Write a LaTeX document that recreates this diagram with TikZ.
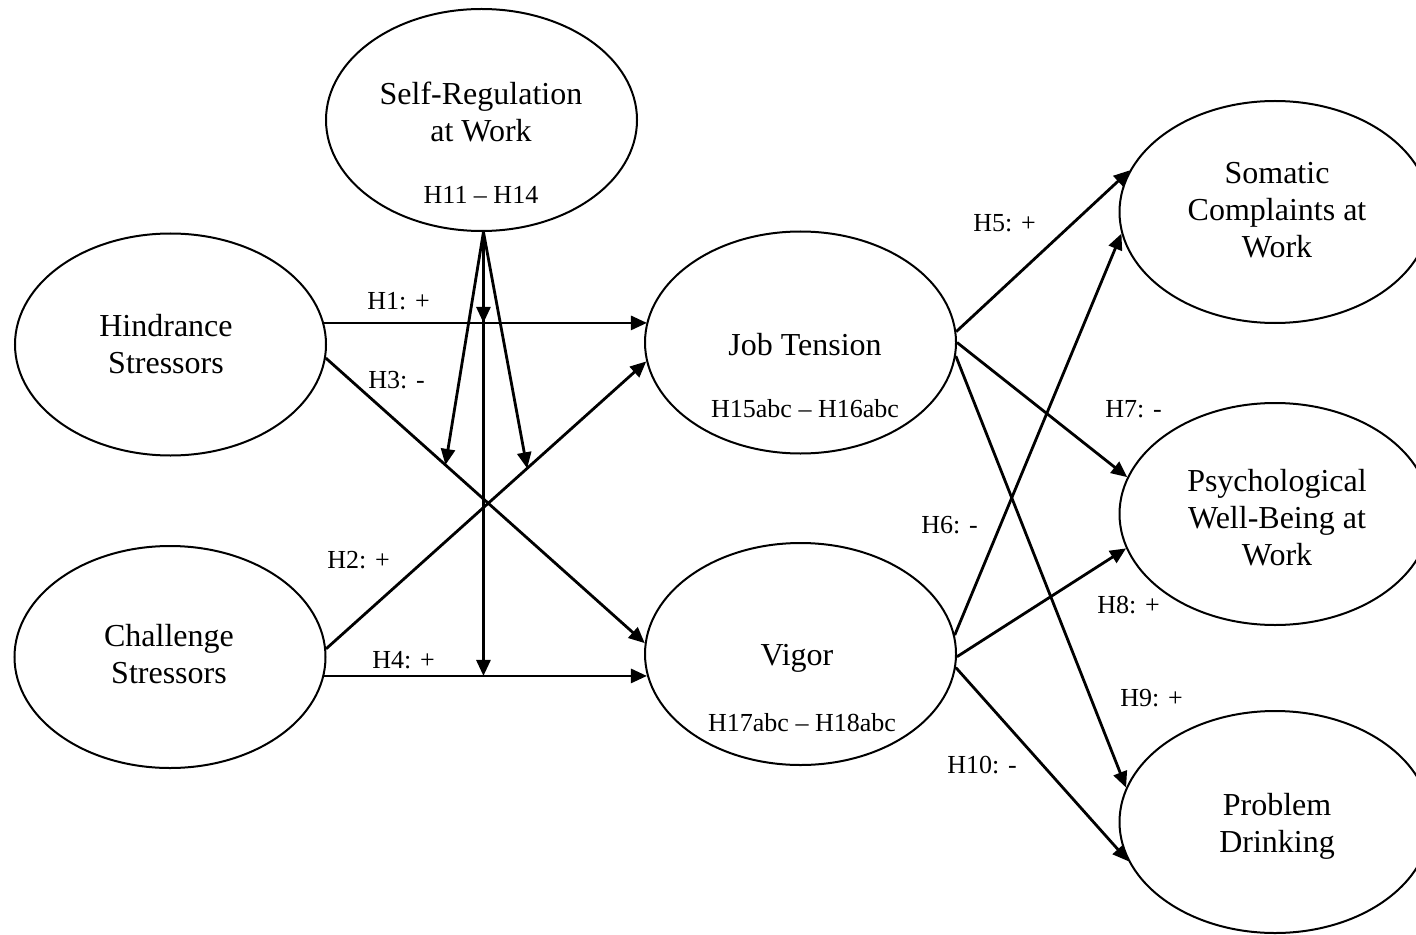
\documentclass[tikz,border=0pt]{standalone}
\usepackage{fontspec}
\setmainfont{Liberation Serif}
\usetikzlibrary{arrows.meta,calc,shapes.geometric}
\begin{document}
\begin{tikzpicture}[x=0.5pt,y=-0.5pt,
  latent/.style={draw,ellipse,line width=1pt,minimum width=155.5pt,minimum height=111pt,inner sep=0pt},
  maintext/.style={align=center,font=\fontsize{16}{18.5}\selectfont,anchor=base,inner sep=0pt},
  subtext/.style={font=\fontsize{13}{15}\selectfont,anchor=base,inner sep=0pt},
  hyp/.style={font=\fontsize{13}{15}\selectfont,anchor=base west,inner sep=0pt},
  effect/.style={line width=1.4pt,-{Triangle[length=8pt,width=7pt]}}
]
\fill[white] (0,0) rectangle (1416,935);
\useasboundingbox (0,0) rectangle (1416,935);

% ellipses
\node[latent] (sr) at (481.5,120) {};
\node[latent] (hs) at (170.5,344.5) {};
\node[latent] (cs) at (170,657) {};
\node[latent] (jt) at (800.5,342.5) {};
\node[latent] (vg) at (800.5,654) {};
\node[latent] (sc) at (1275,212) {};
\node[latent] (pw) at (1275,514) {};
\node[latent] (pd) at (1275,822) {};

% texts (anchor = baseline of last line)
\node[maintext] (srT) at (481,142) {Self-Regulation\\at Work};
\node[subtext] (srH) at (481,204) {H11 \textendash{} H14};
\node[maintext] (hsT) at (166,373) {Hindrance\\Stressors};
\node[maintext] (csT) at (169,683) {Challenge\\Stressors};
\node[maintext] (jtT) at (805,355) {Job Tension};
\node[subtext] (jtH) at (805,417) {H15abc \textendash{} H16abc};
\node[maintext] (vgT) at (797,665) {Vigor};
\node[subtext] (vgH) at (802,731) {H17abc \textendash{} H18abc};
\node[maintext] (scT) at (1277,258) {Somatic\\Complaints at\\Work};
\node[maintext] (pwT) at (1277,565) {Psychological\\Well-Being at\\Work};
\node[maintext] (pdT) at (1277,852) {Problem\\Drinking};

% left paths
\draw[effect] (hs.8.3) -- (hs.8.3 -| jt.172.3);
\draw[effect] (hs.-5.7) -- (vg.176.7);
\draw[effect] (cs.3.7) -- (jt.187.1);
\draw[effect] (cs.-7.7) -- (cs.-7.7 -| vg.188.9);

% moderator
\draw[effect] (sr.-89) -- (sr.-89 |- hs.8.3);
\draw[effect] (sr.-89) -- (sr.-89 |- cs.-7.7);
\draw[effect] (sr.-89) -- ($(hs.-5.7)!0.375!(vg.176.7)$);
\draw[effect] (sr.-89) -- ($(cs.3.7)!0.628!(jt.187.1)$);

% right paths
\draw[effect] (jt.4.6) -- (sc.164.7);
\draw[effect] (jt.-0.9) -- (pw.166.6);
\draw[effect] (jt.-5.7) -- (pd.167.3);
\draw[effect] (vg.7.7) -- (sc.188.4);
\draw[effect] (vg.-1.1) -- (pw.193);
\draw[effect] (vg.-5.9) -- (pd.195);

% hypothesis labels
\node[hyp] (h1) at (367,309) {H1: +};
\node[hyp] (h3) at (368,388) {H3: -};
\node[hyp] (h2) at (327,568) {H2: +};
\node[hyp] (h4) at (372,668) {H4: +};
\node[hyp] (h5) at (973,232) {H5: +};
\node[hyp] (h7) at (1105,417) {H7: -};
\node[hyp] (h6) at (921,533) {H6: -};
\node[hyp] (h8) at (1097,613) {H8: +};
\node[hyp] (h9) at (1120,706) {H9: +};
\node[hyp] (h10) at (947,773) {H10: -};
\end{tikzpicture}
\end{document}
